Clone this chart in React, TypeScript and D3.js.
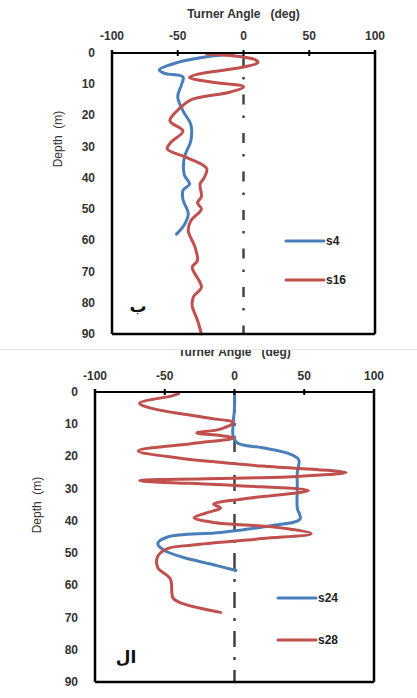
import React from "react";
import * as d3 from "d3";

// ---------- data ----------
const angleTicks = [-100, -50, 0, 50, 100];
const depthTicks = [0, 10, 20, 30, 40, 50, 60, 70, 80, 90];

// top panel (ب)
const s4Angle = [-8, -28, -50, -64, -60, -46, -47, -50, -46, -40, -40, -45, -45, -41, -46, -46, -42, -45, -51];
const s4Depth = [0.3, 1.2, 3, 5.4, 6.5, 7.7, 10, 14, 18.5, 23, 28, 33.5, 39, 42, 44, 47, 51.5, 55, 58];

const s16Angle = [-28, -10, 8, 11, 0, -35, -41, -25, 0, -10, -40, -48, -56, -46, -55, -58, -43, -28, -30, -33, -32, -35, -32, -40, -42, -37, -35, -39, -32, -38, -39, -35, -32];
const s16Depth = [0.3, 0.8, 2, 3, 4.5, 6.8, 7.8, 9.3, 10.8, 12.5, 15, 17.5, 21.7, 25, 28.5, 30.7, 33.5, 37, 40, 42, 46, 48, 50, 53.7, 57, 62, 66.5, 68.6, 75, 78, 81, 85.6, 90];

// bottom panel (ال)
const s24Angle = [0, 0, -1, -1, 2, 20, 38, 46, 45, 45, 45, 47, 26, -10, -48, -55, -51, -37, -17, 1];
const s24Depth = [0, 5, 10, 13.6, 15.8, 17.3, 19, 21, 25, 30, 36, 39.4, 41.5, 43.6, 45, 47, 49, 51.3, 53.4, 55.4];

const s28Angle = [-40, -45, -68, -60, -20, -1, -10, -27, -10, -1, -30, -69, -40, 20, 80, 40, -68, 0, 53, 10, -15, -10, -20, -29, -15, 30, 55, 20, -30, -48, -55, -55, -46, -44, -37, -10];
const s28Depth = [0.5, 1.2, 3.5, 5, 8, 9.5, 11.5, 12.7, 13.5, 14.3, 16, 18.3, 20.5, 23, 25, 26.3, 27.5, 29, 30.6, 33, 34.8, 36, 37.5, 39, 40.5, 42, 44, 45.5, 47.5, 48.6, 51, 54.5, 58, 64, 65.7, 68.4];

const BLUE = "#4a7ebb";
const RED = "#c0504d";
const FONT = "'Liberation Sans', Arial, sans-serif";

type Series = { name: string; color: string; angle: number[]; depth: number[] };

type PanelProps = {
  left: number; right: number; top: number; bottom: number;
  series: Series[];
  titleY: number;
  tickLabelY: number;
  depthLabelX: number;
  yTitleX: number; yTitleY: number;
  legendX: number; legendY: number[];
  letter: string; letterX: number; letterY: number;
  dash: string; dashOffset: number;
};

function Panel(p: PanelProps) {
  const x = d3.scaleLinear().domain([-100, 100]).range([p.left, p.right]);
  const y = d3.scaleLinear().domain([0, 90]).range([p.top, p.bottom]);
  const line = d3
    .line<[number, number]>()
    .x((d) => x(d[0]))
    .y((d) => y(d[1]))
    .curve(d3.curveCatmullRom.alpha(0.5));
  return (
    <g>
      <text x={(p.left + p.right) / 2} y={p.titleY} textAnchor="middle" fontFamily={FONT} fontWeight="bold" fontSize={12} fill="#333">
        Turner Angle{"\u00a0\u00a0\u00a0"}(deg)
      </text>
      {angleTicks.map((t) => (
        <text key={"xl" + t} x={x(t)} y={p.tickLabelY} textAnchor="middle" fontFamily={FONT} fontWeight="bold" fontSize={12} fill="#333">
          {t}
        </text>
      ))}
      {depthTicks.map((t) => (
        <text key={"yl" + t} x={p.depthLabelX} y={y(t) + 4} textAnchor="end" fontFamily={FONT} fontWeight="bold" fontSize={12} fill="#333">
          {t}
        </text>
      ))}
      <text transform={`translate(${p.yTitleX},${p.yTitleY}) rotate(-90)`} textAnchor="middle" fontFamily={FONT} fontSize={12} fill="#333">
        Depth{"\u00a0\u00a0"}(m)
      </text>
      <line x1={x(0)} x2={x(0)} y1={y(0)} y2={y(90)} stroke="#444" strokeWidth={2.5} strokeDasharray={p.dash} strokeDashoffset={p.dashOffset} />
      {p.series.map((s) => (
        <path
          key={s.name}
          d={line(s.angle.map((a, i) => [a, s.depth[i]] as [number, number])) || ""}
          fill="none"
          stroke={s.color}
          strokeWidth={3}
          strokeLinejoin="round"
          strokeLinecap="round"
        />
      ))}
      <line x1={p.left} x2={p.right} y1={p.top} y2={p.top} stroke="#000" strokeWidth={2} />
      <line x1={p.left} x2={p.left} y1={p.top - 3} y2={p.bottom} stroke="#000" strokeWidth={2.5} />
      <line x1={p.right} x2={p.right} y1={p.top - 3} y2={p.bottom} stroke="#000" strokeWidth={2.5} />
      <line x1={p.left} x2={p.right} y1={p.bottom} y2={p.bottom} stroke="#000" strokeWidth={2.5} />
      {angleTicks.map((t) => (
        <line key={"tk" + t} x1={x(t)} x2={x(t)} y1={p.top - 3} y2={p.top + 3} stroke="#000" strokeWidth={2} />
      ))}
      {p.series.map((s, i) => (
        <g key={"lg" + s.name}>
          <line x1={p.legendX} x2={p.legendX + 38} y1={p.legendY[i]} y2={p.legendY[i]} stroke={s.color} strokeWidth={3} strokeLinecap="round" />
          <text x={p.legendX + 40} y={p.legendY[i] + 4} fontFamily={FONT} fontWeight="bold" fontSize={12} fill="#222">
            {s.name}
          </text>
        </g>
      ))}
      <text x={p.letterX} y={p.letterY} fontFamily="'DejaVu Sans', sans-serif" fontWeight="bold" fontSize={17} fill="#111" textAnchor="middle">
        {p.letter}
      </text>
    </g>
  );
}

export default function App() {
  const topSeries: Series[] = [
    { name: "s4", color: BLUE, angle: s4Angle, depth: s4Depth },
    { name: "s16", color: RED, angle: s16Angle, depth: s16Depth },
  ];
  const bottomSeries: Series[] = [
    { name: "s24", color: BLUE, angle: s24Angle, depth: s24Depth },
    { name: "s28", color: RED, angle: s28Angle, depth: s28Depth },
  ];
  return (
    <svg width={417} height={698} style={{ position: "absolute", left: 0, top: 0, background: "#fff" }}>
      <rect x={0} y={0} width={417} height={698} fill="#fff" />
      <Panel
        left={95} right={374} top={392} bottom={682}
        series={bottomSeries}
        titleY={356}
        tickLabelY={380}
        depthLabelX={78}
        yTitleX={41} yTitleY={505}
        legendX={278} legendY={[598, 640]}
        letter="ال" letterX={126} letterY={663}
        dash="16,10,3,10" dashOffset={34}
      />
      <rect x={0} y={0} width={417} height={349} fill="#fff" />
      <line x1={0} x2={417} y1={349.5} y2={349.5} stroke="#e6e6e6" strokeWidth={1} />
      <Panel
        left={112} right={375} top={53} bottom={334}
        series={topSeries}
        titleY={18}
        tickLabelY={40}
        depthLabelX={95}
        yTitleX={62} yTitleY={139}
        legendX={286} legendY={[241, 280]}
        letter="ب" letterX={138} letterY={312}
        dash="10,11,2.5,15" dashOffset={35.5}
      />
    </svg>
  );
}
